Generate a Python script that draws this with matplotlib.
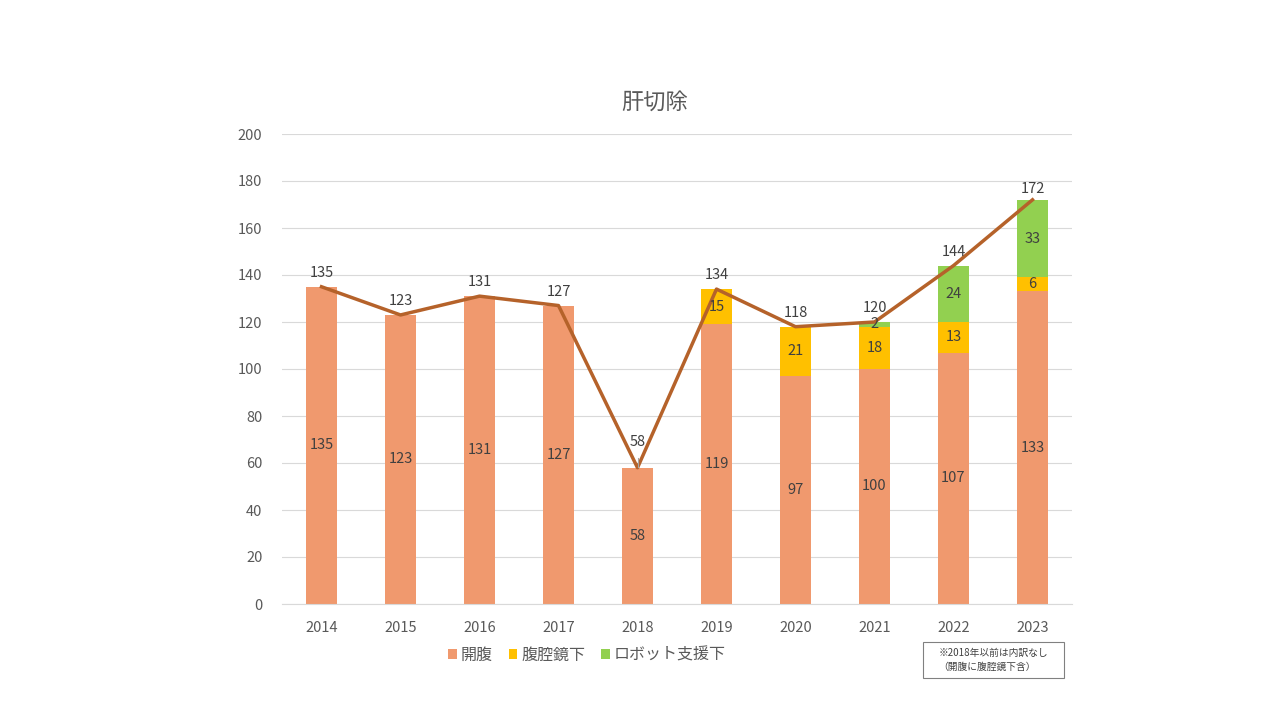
import matplotlib
matplotlib.use("Agg")
import matplotlib.pyplot as plt
import numpy as np
from matplotlib.patches import Rectangle

plt.rcParams['font.family'] = ['Noto Sans CJK JP', 'DejaVu Sans']

years = ['2014', '2015', '2016', '2017', '2018', '2019', '2020', '2021', '2022', '2023']
open_vals = [135, 123, 131, 127, 58, 119, 97, 100, 107, 133]
lap_vals = [0, 0, 0, 0, 0, 15, 21, 18, 13, 6]
robot_vals = [0, 0, 0, 0, 0, 0, 0, 2, 24, 33]
totals = [135, 123, 131, 127, 58, 134, 118, 120, 144, 172]

c_open = '#F0996E'
c_lap = '#FFC000'
c_robot = '#92D050'
c_line = '#B5622A'
txt = '#404040'

fig = plt.figure(figsize=(12.8, 7.2), dpi=100)
ax = fig.add_axes([282/1280, 1-604/720, (1072-282)/1280, (604-134)/720])

x = np.arange(len(years))
w = 0.4
open_a = np.array(open_vals)
lap_a = np.array(lap_vals)
rob_a = np.array(robot_vals)
ax.bar(x, open_a, w, color=c_open, label='開腹', zorder=2)
ax.bar(x, lap_a, w, bottom=open_a, color=c_lap, label='腹腔鏡下', zorder=2)
ax.bar(x, rob_a, w, bottom=open_a+lap_a, color=c_robot, label='ロボット支援下', zorder=2)
ax.plot(x, totals, color=c_line, lw=2.5, zorder=3)

fs = 10.5
for i in range(len(years)):
    ax.text(x[i], open_a[i]/2, str(open_vals[i]), ha='center', va='center', fontsize=fs, color=txt, zorder=4)
    if lap_a[i] > 0:
        ax.text(x[i], open_a[i]+lap_a[i]/2, str(lap_vals[i]), ha='center', va='center', fontsize=fs, color=txt, zorder=4)
    if rob_a[i] > 0:
        ax.text(x[i], open_a[i]+lap_a[i]+rob_a[i]/2, str(robot_vals[i]), ha='center', va='center', fontsize=fs, color=txt, zorder=4)
    off = 26 if i == 4 else (11 if i == 9 else 14)
    ax.annotate(str(totals[i]), (x[i], totals[i]), xytext=(0, off), textcoords='offset pixels',
                ha='center', va='center', fontsize=fs, color=txt, zorder=4)

# leader line for 2018
ax.plot([x[4], x[4]], [58.5, 62], color='#A6A6A6', lw=0.8, zorder=4)

ax.set_xlim(-0.5, len(years)-0.5)
ax.set_ylim(0, 200)
ax.set_yticks(range(0, 201, 20))
ax.set_xticks(x)
ax.set_xticklabels(years)
ax.tick_params(axis='both', length=0, labelsize=fs, colors='#595959')
ax.tick_params(axis='x', pad=12)
ax.tick_params(axis='y', pad=14)
ax.grid(axis='y', color='#D9D9D9', lw=0.8, zorder=0)
ax.set_axisbelow(True)
for s in ['top', 'right', 'left']:
    ax.spines[s].set_visible(False)
ax.spines['bottom'].set_color('#D9D9D9')

fig.text(655/1280, 1-102/720, '肝切除', ha='center', va='center', fontsize=16, color='#595959')

leg = fig.legend(loc='center', bbox_to_anchor=(587/1280, 1-655/720), ncol=3, frameon=False,
                 fontsize=11.5, handlelength=0.55, handleheight=0.55, handletextpad=0.25, columnspacing=1.0,
                 labelcolor='#595959')

fig.patches.append(Rectangle((923/1280, 1-678/720), (1064-923)/1280, (678-642)/720,
                             transform=fig.transFigure, fill=False, edgecolor='#808080', lw=0.8))
fig.text(993/1280, 1-653/720, '※2018年以前は内訳なし', ha='center', va='center', fontsize=7, color='#404040')
fig.text(987/1280, 1-667/720, '（開腹に腹腔鏡下含）', ha='center', va='center', fontsize=7, color='#404040')

fig.savefig('out.png', dpi=100)
